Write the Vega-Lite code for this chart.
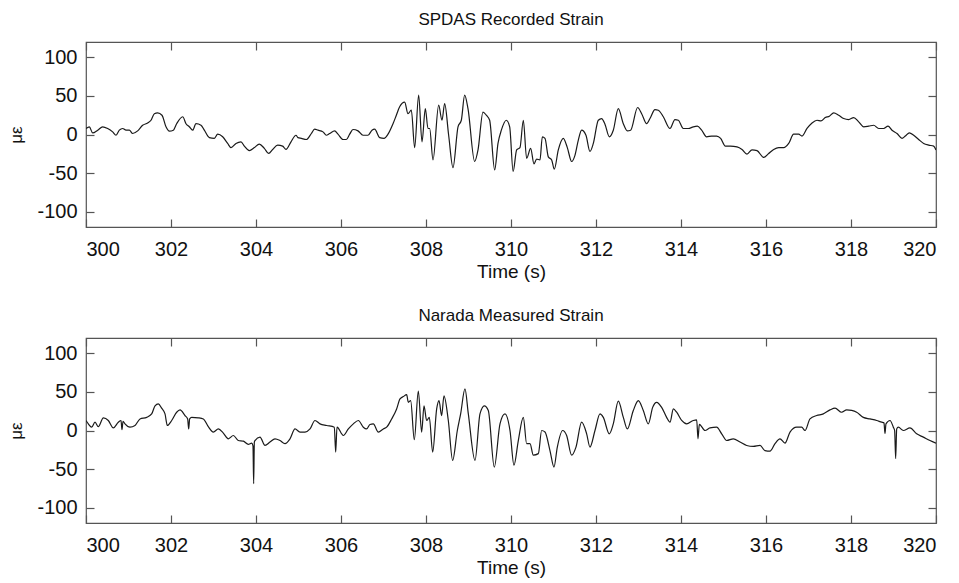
{
  "$schema": "https://vega.github.io/schema/vega-lite/v6.json",
  "background": "white",
  "autosize": {"type": "pad"},
  "padding": {"left": 6, "top": 10, "right": 10, "bottom": 5},
  "bounds": "flush",
  "spacing": 111,
  "config": {
    "font": "Liberation Sans",
    "view": {"stroke": "#555", "strokeWidth": 1.2},
    "axis": {
      "domain": false, "grid": false, "tickColor": "#555", "tickWidth": 1.2, "tickSize": -8,
      "labelFont": "Liberation Sans", "labelFontSize": 20, "labelColor": "#111",
      "titleFont": "Liberation Sans", "titleFontSize": 19, "titleFontWeight": "normal", "titleColor": "#111"
    },
    "title": {"font": "Liberation Sans", "fontSize": 17, "fontWeight": "normal", "color": "#111", "offset": 12}
  },
  "datasets": {
    "spdas": [
      {"t":300.000,"v":7.8},{"t":300.078,"v":10},{"t":300.157,"v":2},{"t":300.275,"v":5.6},{"t":300.392,"v":10},{"t":300.510,"v":7.8},{"t":300.627,"v":3.4},{"t":300.706,"v":-1},{"t":300.784,"v":5.6},{"t":300.863,"v":7.8},{"t":300.941,"v":5.6},{"t":301.020,"v":5.6},{"t":301.098,"v":1.3},{"t":301.216,"v":4.7},{"t":301.333,"v":12},{"t":301.451,"v":15},{"t":301.529,"v":18.5},{"t":301.608,"v":27},{"t":301.686,"v":28},{"t":301.788,"v":25},{"t":301.882,"v":10},{"t":301.961,"v":4.3},{"t":302.055,"v":5.6},{"t":302.133,"v":14},{"t":302.275,"v":23},{"t":302.353,"v":14},{"t":302.431,"v":10},{"t":302.510,"v":5.6},{"t":302.588,"v":14},{"t":302.706,"v":12},{"t":302.784,"v":5.6},{"t":302.902,"v":-4},{"t":303.020,"v":-5},{"t":303.098,"v":0.4},{"t":303.216,"v":-3},{"t":303.333,"v":-11.6},{"t":303.412,"v":-17},{"t":303.529,"v":-11.6},{"t":303.647,"v":-9.5},{"t":303.725,"v":-15},{"t":303.843,"v":-21},{"t":303.961,"v":-17},{"t":304.078,"v":-12.5},{"t":304.196,"v":-18},{"t":304.298,"v":-24.6},{"t":304.392,"v":-19.4},{"t":304.510,"v":-13.8},{"t":304.627,"v":-15},{"t":304.706,"v":-19.4},{"t":304.824,"v":-9.5},{"t":304.941,"v":-1},
      {"t":304.988,"v":-4},{"t":305.067,"v":-5},{"t":305.184,"v":-6.5},{"t":305.302,"v":1.3},{"t":305.380,"v":6.9},{"t":305.459,"v":5.6},{"t":305.576,"v":3.4},{"t":305.655,"v":-1},{"t":305.733,"v":1.3},{"t":305.851,"v":4.7},{"t":305.929,"v":0.4},{"t":306.047,"v":-6.5},{"t":306.125,"v":-6.5},{"t":306.204,"v":0.4},{"t":306.282,"v":6.5},{"t":306.400,"v":4.7},{"t":306.518,"v":-1},{"t":306.635,"v":-1},{"t":306.729,"v":5.6},{"t":306.792,"v":6.9},{"t":306.910,"v":-4},{"t":307.012,"v":-5},{"t":307.106,"v":0.4},{"t":307.224,"v":14},{"t":307.302,"v":25},{"t":307.380,"v":36},{"t":307.498,"v":42},{"t":307.576,"v":27},{"t":307.655,"v":31.5},{"t":307.733,"v":-17},{"t":307.827,"v":51},{"t":307.906,"v":-9.5},{"t":307.984,"v":33.6},{"t":308.047,"v":7.8},{"t":308.086,"v":7.8},{"t":308.165,"v":-33},{"t":308.298,"v":38},{"t":308.376,"v":18.5},{"t":308.439,"v":40},{"t":308.533,"v":-1},{"t":308.635,"v":-43},{"t":308.753,"v":10},{"t":308.831,"v":18.5},{"t":308.910,"v":51},{"t":308.988,"v":33.6},{"t":309.145,"v":-35},{"t":309.224,"v":-20},{"t":309.341,"v":29},{"t":309.420,"v":25},{"t":309.498,"v":18.5},{"t":309.616,"v":-46},{"t":309.694,"v":-11.6},{"t":309.773,"v":5.6},{"t":309.890,"v":18.5},{"t":309.969,"v":10},{"t":310.050,"v":-48},
      {"t":310.133,"v":-20},{"t":310.211,"v":-17},{"t":310.290,"v":18.5},{"t":310.368,"v":-31},{"t":310.462,"v":-18},{"t":310.541,"v":-38},{"t":310.603,"v":-32},{"t":310.682,"v":-33},{"t":310.737,"v":-3},{"t":310.800,"v":-5},{"t":310.878,"v":-29},{"t":310.957,"v":-33},{"t":311.019,"v":-45},{"t":311.113,"v":-20},{"t":311.231,"v":-5},{"t":311.325,"v":-17},{"t":311.427,"v":-35},{"t":311.505,"v":-27},{"t":311.584,"v":-7.3},{"t":311.662,"v":5.6},{"t":311.764,"v":-1},{"t":311.858,"v":-22},{"t":311.937,"v":-11.6},{"t":312.054,"v":18.5},{"t":312.133,"v":20.7},{"t":312.211,"v":13.4},{"t":312.313,"v":-3},{"t":312.407,"v":5.6},{"t":312.525,"v":33.6},{"t":312.643,"v":14},{"t":312.737,"v":4.7},{"t":312.815,"v":5.6},{"t":312.980,"v":35},{"t":313.074,"v":27},{"t":313.192,"v":14},{"t":313.270,"v":20.7},{"t":313.388,"v":32.3},{"t":313.466,"v":31.5},{"t":313.584,"v":23},{"t":313.741,"v":7.8},{"t":313.858,"v":19.4},{"t":313.937,"v":18.5},{"t":314.054,"v":7.8},{"t":314.172,"v":7.8},{"t":314.290,"v":10},{"t":314.384,"v":10.8},{"t":314.486,"v":5.6},{"t":314.603,"v":-3},{"t":314.721,"v":-2},{"t":314.839,"v":-2},{"t":314.933,"v":-5},
      {"t":315.043,"v":-15},{"t":315.161,"v":-15},{"t":315.318,"v":-16},{"t":315.436,"v":-19.4},{"t":315.553,"v":-25.4},{"t":315.671,"v":-20},{"t":315.789,"v":-21},{"t":315.945,"v":-29.7},{"t":316.063,"v":-24.6},{"t":316.181,"v":-19.4},{"t":316.298,"v":-17},{"t":316.416,"v":-17},{"t":316.534,"v":-11.6},{"t":316.651,"v":0.4},{"t":316.769,"v":0.4},{"t":316.847,"v":-2},{"t":316.965,"v":7.8},{"t":317.083,"v":15},{"t":317.200,"v":18.5},{"t":317.294,"v":17.7},{"t":317.396,"v":22},{"t":317.491,"v":23.7},{"t":317.592,"v":28},{"t":317.710,"v":25},{"t":317.828,"v":20.7},{"t":317.945,"v":19.4},{"t":318.063,"v":22},{"t":318.181,"v":16.4},{"t":318.298,"v":10},{"t":318.416,"v":10.8},{"t":318.534,"v":12},{"t":318.651,"v":7.8},{"t":318.769,"v":7.8},{"t":318.871,"v":10.8},{"t":318.965,"v":5.6},{"t":319.083,"v":1.3},{"t":319.200,"v":-5},{"t":319.279,"v":-2},{"t":319.373,"v":2.2},{"t":319.475,"v":-1},{"t":319.592,"v":-6.5},{"t":319.710,"v":-11.6},{"t":319.827,"v":-13.8},{"t":319.945,"v":-15},{"t":320.000,"v":-20}
    ],
    "narada": [
      {"t":300.000,"v":13},{"t":300.055,"v":8.6},{"t":300.133,"v":4.3},{"t":300.212,"v":10.8},{"t":300.290,"v":5},{"t":300.408,"v":16.4},{"t":300.525,"v":13},{"t":300.643,"v":3.4},{"t":300.761,"v":10.8},{"t":300.824,"v":13},{"t":300.847,"v":1},{"t":300.871,"v":12},{"t":300.918,"v":8.6},{"t":301.035,"v":4.3},{"t":301.153,"v":6.5},{"t":301.271,"v":15},{"t":301.427,"v":17},{"t":301.545,"v":21.5},{"t":301.624,"v":32},{"t":301.702,"v":34.5},{"t":301.780,"v":29},{"t":301.859,"v":21.5},{"t":301.914,"v":6.5},{"t":302.016,"v":13},{"t":302.133,"v":23.7},{"t":302.212,"v":26.7},{"t":302.329,"v":19.4},{"t":302.392,"v":15},{"t":302.416,"v":2},{"t":302.439,"v":15},{"t":302.486,"v":17},{"t":302.643,"v":16.4},{"t":302.761,"v":15},{"t":302.878,"v":5},{"t":302.996,"v":-2},{"t":303.114,"v":2},{"t":303.231,"v":-3.4},{"t":303.349,"v":-10.8},{"t":303.467,"v":-6.5},{"t":303.584,"v":-13},{"t":303.702,"v":-13.8},{"t":303.820,"v":-18},{"t":303.898,"v":-16.4},{"t":303.929,"v":-20},{"t":303.945,"v":-69},{"t":303.961,"v":-15},{"t":303.976,"v":-13},{"t":304.094,"v":-8.6},{"t":304.212,"v":-19.4},{"t":304.329,"v":-15},{"t":304.447,"v":-10.8},{"t":304.565,"v":-13},{"t":304.682,"v":-17},{"t":304.800,"v":-10.8},{"t":304.918,"v":2},{"t":305.035,"v":-2},{"t":305.153,"v":-2},{"t":305.271,"v":2},{"t":305.388,"v":13},{"t":305.506,"v":8.6},{"t":305.663,"v":6.5},{"t":305.843,"v":4.3},{"t":305.875,"v":-28},{"t":305.906,"v":4.3},{"t":306.055,"v":-6.5},{"t":306.173,"v":2},{"t":306.290,"v":8.6},{"t":306.408,"v":13},{"t":306.525,"v":4.3},{"t":306.600,"v":2},
      {"t":306.682,"v":7.8},{"t":306.760,"v":8.6},{"t":306.878,"v":-2},{"t":306.996,"v":2},{"t":307.074,"v":4.3},{"t":307.192,"v":15},{"t":307.309,"v":28},{"t":307.388,"v":41},{"t":307.466,"v":44},{"t":307.545,"v":46.5},{"t":307.584,"v":36.6},{"t":307.639,"v":38.8},{"t":307.725,"v":-12},{"t":307.819,"v":51},{"t":307.898,"v":-2},{"t":307.953,"v":32},{"t":308.015,"v":13},{"t":308.078,"v":17},{"t":308.157,"v":-28},{"t":308.251,"v":28},{"t":308.306,"v":38.8},{"t":308.368,"v":19.4},{"t":308.423,"v":45},{"t":308.525,"v":13},{"t":308.627,"v":-38.8},{"t":308.737,"v":0},{"t":308.815,"v":21.5},{"t":308.917,"v":54},{"t":308.996,"v":21.5},{"t":309.153,"v":-38.8},{"t":309.270,"v":21.5},{"t":309.372,"v":32},{"t":309.466,"v":26},{"t":309.607,"v":-47.4},{"t":309.741,"v":8.6},{"t":309.858,"v":21.5},{"t":309.976,"v":0},{"t":310.070,"v":-45},{"t":310.172,"v":-13},{"t":310.290,"v":17},{"t":310.368,"v":-17},{"t":310.447,"v":-17},{"t":310.525,"v":-32},{"t":310.643,"v":-30},{"t":310.721,"v":0},{"t":310.800,"v":-2},{"t":310.917,"v":-26},{"t":311.011,"v":-47.4},{"t":311.090,"v":-21.5},{"t":311.215,"v":0},{"t":311.309,"v":-6.5},{"t":311.427,"v":-32},{"t":311.529,"v":-21.5},{"t":311.662,"v":10.8},{"t":311.780,"v":-4.3},{"t":311.858,"v":-21.5},{"t":311.976,"v":0},{"t":312.094,"v":21.5},{"t":312.172,"v":17},{"t":312.313,"v":-4.3},{"t":312.407,"v":8.6},{"t":312.525,"v":38},{"t":312.643,"v":17},{"t":312.737,"v":2},{"t":312.878,"v":26},{"t":312.996,"v":38.8},{"t":313.113,"v":26},{"t":313.231,"v":8.6},{"t":313.333,"v":30},{"t":313.427,"v":36.6},{"t":313.545,"v":30},{"t":313.662,"v":17},{"t":313.741,"v":10.8},
      {"t":313.820,"v":28},{"t":313.898,"v":23.7},{"t":314.016,"v":13},{"t":314.133,"v":8.6},{"t":314.290,"v":13},{"t":314.369,"v":13.8},{"t":314.400,"v":-10.8},{"t":314.431,"v":8},{"t":314.565,"v":0},{"t":314.682,"v":3.4},{"t":314.839,"v":4.3},{"t":314.957,"v":-4.3},{"t":315.075,"v":-13},{"t":315.231,"v":-10.8},{"t":315.388,"v":-15},{"t":315.545,"v":-19.4},{"t":315.702,"v":-20.7},{"t":315.859,"v":-19.4},{"t":315.976,"v":-26},{"t":316.094,"v":-26.7},{"t":316.212,"v":-17},{"t":316.329,"v":-10.8},{"t":316.447,"v":-16.4},{"t":316.565,"v":-2},{"t":316.722,"v":4.3},{"t":316.839,"v":4.3},{"t":316.918,"v":0},{"t":317.035,"v":15},{"t":317.192,"v":19.4},{"t":317.349,"v":21.5},{"t":317.506,"v":26.7},{"t":317.624,"v":29},{"t":317.780,"v":23.7},{"t":317.898,"v":26.7},{"t":318.016,"v":26},{"t":318.133,"v":23.7},{"t":318.290,"v":17},{"t":318.447,"v":15},{"t":318.604,"v":13},{"t":318.722,"v":10.8},{"t":318.776,"v":10},{"t":318.800,"v":-4},{"t":318.823,"v":8.6},{"t":318.918,"v":13},{"t":318.996,"v":4.3},{"t":319.027,"v":0},{"t":319.051,"v":-36.6},{"t":319.075,"v":2},{"t":319.114,"v":4.3},{"t":319.231,"v":0},{"t":319.388,"v":3.4},{"t":319.545,"v":-4.3},{"t":319.702,"v":-8.6},{"t":319.859,"v":-13},{"t":320.000,"v":-16.4}
    ]
  },
  "vconcat": [
    {
      "width": 850, "height": 185,
      "data": {"name": "spdas"},
      "title": {"text": "SPDAS Recorded Strain"},
      "layer": [
        {
          "mark": {"type": "line", "color": "#1a1a1a", "strokeWidth": 1.2, "clip": true, "interpolate": "monotone"},
          "encoding": {
            "x": {"field": "t", "type": "quantitative", "scale": {"domain": [300, 320], "nice": false, "zero": false},
                  "axis": {"orient": "bottom", "values": [300,302,304,306,308,310,312,314,316,318,320], "title": "Time (s)", "labelPadding": 20, "titleY": 44, "titleBaseline": "middle"}},
            "y": {"field": "v", "type": "quantitative", "scale": {"domain": [-120, 120], "nice": false, "zero": false},
                  "axis": {"orient": "left", "values": [-100,-50,0,50,100], "labelExpr": "'' + datum.value", "labelPadding": 17, "title": "με", "titleX": -70, "titleY": 92.5, "titleBaseline": "middle", "titleFontSize": 17}}
          }
        },
        {
          "mark": {"type": "line", "opacity": 0},
          "encoding": {
            "x": {"field": "t", "type": "quantitative", "axis": {"orient": "top", "values": [300,302,304,306,308,310,312,314,316,318,320], "labels": false, "title": null}},
            "y": {"field": "v", "type": "quantitative", "axis": {"orient": "right", "values": [-100,-50,0,50,100], "labels": false, "title": null}}
          }
        }
      ],
      "resolve": {"axis": {"x": "independent", "y": "independent"}}
    },
    {
      "width": 850, "height": 185,
      "data": {"name": "narada"},
      "title": {"text": "Narada Measured Strain"},
      "layer": [
        {
          "mark": {"type": "line", "color": "#1a1a1a", "strokeWidth": 1.2, "clip": true, "interpolate": "monotone"},
          "encoding": {
            "x": {"field": "t", "type": "quantitative", "scale": {"domain": [300, 320], "nice": false, "zero": false},
                  "axis": {"orient": "bottom", "values": [300,302,304,306,308,310,312,314,316,318,320], "title": "Time (s)", "labelPadding": 20, "titleY": 44, "titleBaseline": "middle"}},
            "y": {"field": "v", "type": "quantitative", "scale": {"domain": [-120, 120], "nice": false, "zero": false},
                  "axis": {"orient": "left", "values": [-100,-50,0,50,100], "labelExpr": "'' + datum.value", "labelPadding": 17, "title": "με", "titleX": -70, "titleY": 92.5, "titleBaseline": "middle", "titleFontSize": 17}}
          }
        },
        {
          "mark": {"type": "line", "opacity": 0},
          "encoding": {
            "x": {"field": "t", "type": "quantitative", "axis": {"orient": "top", "values": [300,302,304,306,308,310,312,314,316,318,320], "labels": false, "title": null}},
            "y": {"field": "v", "type": "quantitative", "axis": {"orient": "right", "values": [-100,-50,0,50,100], "labels": false, "title": null}}
          }
        }
      ],
      "resolve": {"axis": {"x": "independent", "y": "independent"}}
    }
  ]
}
